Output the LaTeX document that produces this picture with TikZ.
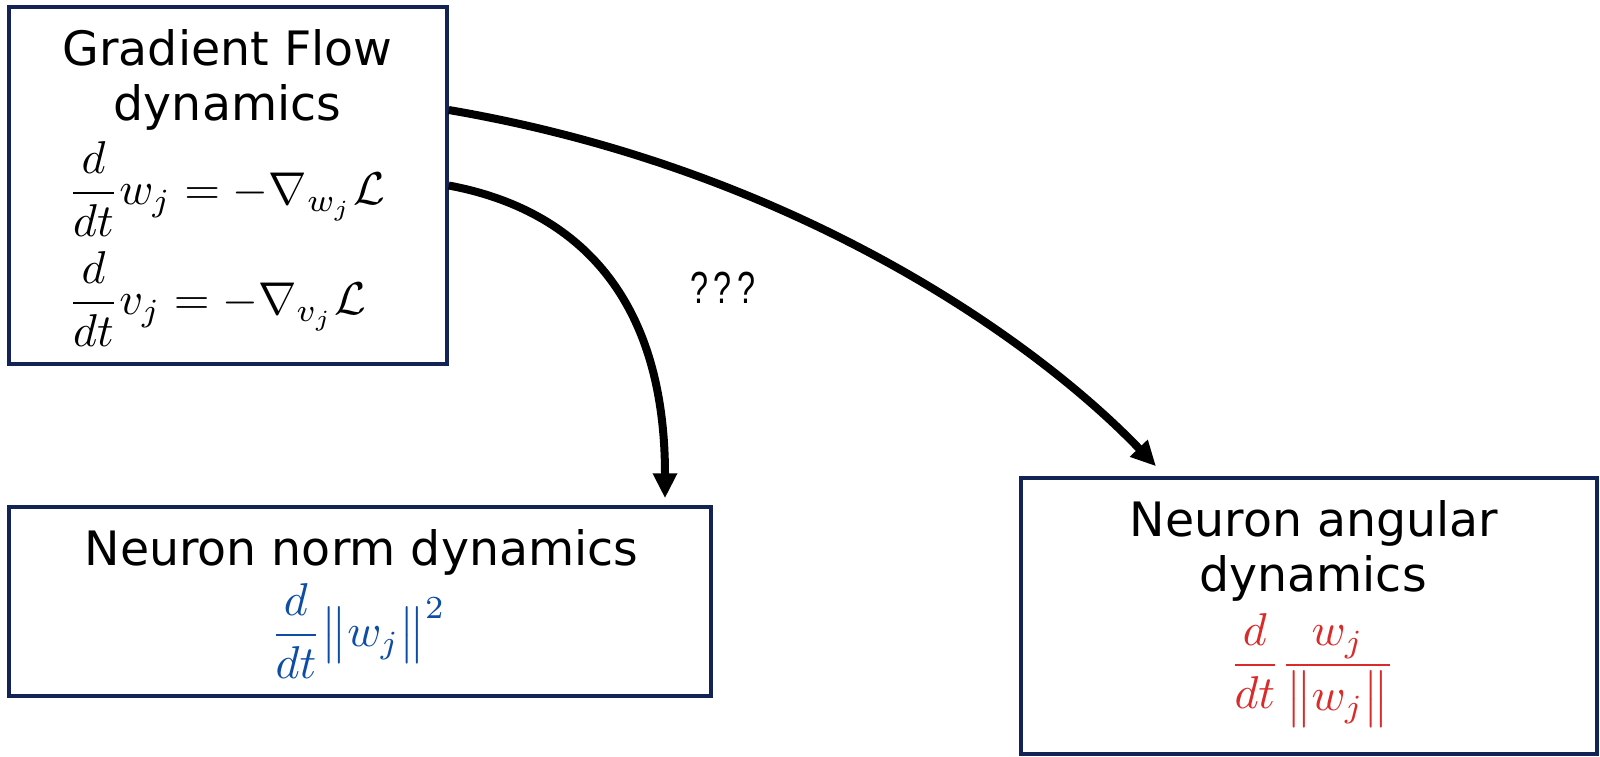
\documentclass[tikz,border=0pt]{standalone}
\usepackage{amsmath}
\usepackage[no-math]{fontspec}
\setmainfont{DejaVu Sans}
\newfontfamily\qfont{Liberation Sans}
\usepackage{graphicx}
\usetikzlibrary{arrows.meta}
\definecolor{navy}{RGB}{20,35,85}
\definecolor{eqblue}{RGB}{14,77,164}
\definecolor{eqred}{RGB}{218,42,42}
\newcommand{\bigeq}[1]{\scalebox{4.6}{\fontsize{10}{12}\selectfont$\displaystyle #1$}}
\tikzset{
  box/.style={draw=navy, line width=3.5pt, fill=white, inner sep=0pt},
  title/.style={font=\fontsize{47.4}{52}\selectfont, inner sep=0pt, anchor=base},
  eqn/.style={inner sep=0pt},
  conn/.style={line width=8pt, -{Triangle[length=25pt,width=23pt]}},
}
\begin{document}
\begin{tikzpicture}[x=1pt,y=-1pt]
\useasboundingbox (0,0) rectangle (1600,756);
% boxes
\node[box, minimum width=438pt, minimum height=357pt] (gf) at (228,185.5) {};
\node[box, minimum width=702pt, minimum height=189pt] (norm) at (360,601.5) {};
\node[box, minimum width=576pt, minimum height=276pt] (ang) at (1309,616) {};
% box 1 text
\node[title] (gft1) at (227.5,65) {Gradient Flow};
\node[title] (gft2) at (227.5,120) {dynamics};
\node[eqn, anchor=base west] (eq1) at (67.5,204.5) {\bigeq{\frac{d}{dt}w_j=-\nabla_{w_j}\mathcal{L}}};
\node[eqn, anchor=base west] (eq2) at (67.5,314.5) {\bigeq{\frac{d}{dt}v_j=-\nabla_{v_j}\mathcal{L}}};
% box 2 text
\node[title] (nt) at (361.5,565) {Neuron norm dynamics};
\node[eqn, anchor=base, text=eqblue] (neq) at (358,646.5) {\bigeq{\frac{d}{dt}\big\|w_j\big\|^2}};
% box 3 text
\node[title] (at1) at (1314,536) {Neuron angular};
\node[title] (at2) at (1313,591) {dynamics};
\node[eqn, anchor=base, text=eqred] (aeq) at (1312,676.5) {\bigeq{\frac{d}{dt}\frac{w_j}{\big\|w_j\big\|}}};
% connectors
\draw[conn] (gf.east) .. controls (580,210) and (665,300) .. ([shift={(305pt,7pt)}]norm.north);
\draw[conn] ([yshift=75.5pt]gf.east) .. controls (800,170) and (1040,345) .. ([shift={(-153pt,10pt)}]ang.north);
% label
\node[anchor=base, inner sep=0pt] (q) at (723,303) {\scalebox{0.72}[1]{\qfont\fontsize{45}{47}\selectfont ?\,?\,?}};
\end{tikzpicture}
\end{document}
